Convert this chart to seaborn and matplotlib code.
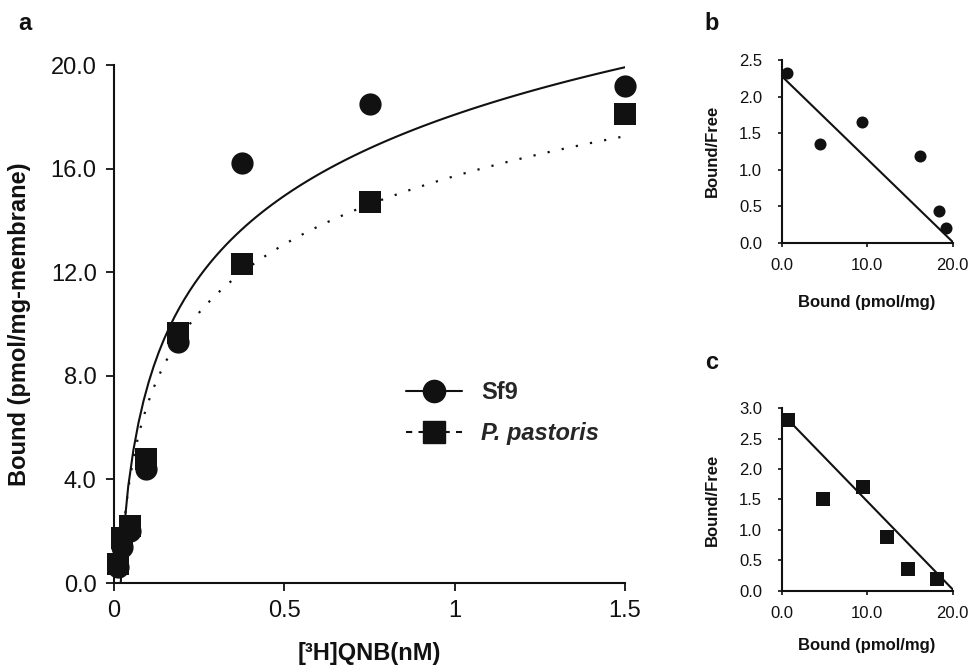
import numpy as np
import matplotlib
matplotlib.use("Agg")
import matplotlib.pyplot as plt
from matplotlib.lines import Line2D
import seaborn as sns

# saturation binding, [3H]QNB two-fold dilution series (nM)
qnb_nm = [0.0117, 0.0234, 0.0469, 0.0938, 0.1875, 0.375, 0.75, 1.5]
sf9_bound = [0.6, 1.4, 2.0, 4.4, 9.3, 16.2, 18.5, 19.2]
pp_bound = [0.75, 1.75, 2.2, 4.8, 9.65, 12.3, 14.7, 18.1]

# Scatchard, Sf9 (panel b)
sf9_sc_bound = [0.66, 4.5, 9.4, 16.2, 18.4, 19.2]
sf9_sc_bf = [2.32, 1.35, 1.65, 1.18, 0.44, 0.2]
sf9_line_x = [0.0, 20.1]
sf9_line_y = [2.28, 0.0]

# Scatchard, P. pastoris (panel c)
pp_sc_bound = [0.78, 4.87, 9.55, 12.36, 14.74, 18.13]
pp_sc_bf = [2.80, 1.50, 1.71, 0.89, 0.36, 0.19]
pp_line_x = [0.0, 20.15]
pp_line_y = [2.92, 0.0]

main_xticks = [0, 0.5, 1, 1.5]
main_xticklabels = ["0", "0.5", "1", "1.5"]
main_yticks = [0, 4, 8, 12, 16, 20]
ins_xticks = [0, 10, 20]

sns.set_style("ticks")
plt.rcParams["font.family"] = ["Liberation Sans", "DejaVu Sans"]
ink = "#111111"

fig = plt.figure(figsize=(9.71, 6.66), dpi=100)

# ---- panel a ----
ax = fig.add_axes([0.1174, 0.1246, 0.5263, 0.7778])
sns.regplot(x=np.array(qnb_nm), y=np.array(sf9_bound), logx=True, ci=None,
            scatter=False, color=ink, line_kws=dict(lw=1.5), ax=ax)
sns.regplot(x=np.array(qnb_nm), y=np.array(pp_bound), logx=True, ci=None,
            scatter=False, color=ink,
            line_kws=dict(lw=1.6, linestyle=(0, (1, 5.5))), ax=ax)
sns.scatterplot(x=qnb_nm, y=sf9_bound, marker="o", s=256, color=ink,
                linewidth=0, clip_on=False, zorder=3, ax=ax)
sns.scatterplot(x=qnb_nm, y=pp_bound, marker="s", s=256, color=ink,
                linewidth=0, clip_on=False, zorder=4, ax=ax)
ax.set_xlim(0, 1.5)
ax.set_ylim(0, 20)
ax.set_xticks(main_xticks)
ax.set_xticklabels(main_xticklabels)
ax.set_yticks(main_yticks)
ax.set_yticklabels([f"{v:.1f}" for v in main_yticks])
ax.tick_params(labelsize=17, length=6, width=1.3, direction="out", pad=6.5,
               color=ink, labelcolor=ink)
for s in ["left", "bottom"]:
    ax.spines[s].set_linewidth(1.5)
    ax.spines[s].set_color(ink)
sns.despine(ax=ax)
ax.set_xlabel("[³H]QNB(nM)", fontsize=17, fontweight="bold", color=ink, labelpad=14)
ax.set_ylabel("Bound (pmol/mg-membrane)", fontsize=17, fontweight="bold",
              color=ink, labelpad=14)

handles = [
    Line2D([], [], color=ink, lw=1.5, marker="o", markersize=16, linestyle="-"),
    Line2D([], [], color=ink, lw=1.5, marker="s", markersize=16,
           linestyle=(0, (3, 3))),
]
leg = ax.legend(handles, ["Sf9", "P. pastoris"], loc="center left",
                bbox_to_anchor=(0.571, 0.328), frameon=False, borderpad=0,
                borderaxespad=0, handlelength=2.4, handletextpad=0.8,
                labelspacing=0.75, prop=dict(size=17, weight="bold"))
leg.get_texts()[1].set_style("italic")
fig.text(0.026, 0.965, "a", fontsize=17, fontweight="bold", color=ink,
         ha="center", va="center")


def inset(rect, xs, ys, lx, ly, marker, size, ymax, letter, ly_pos, xpad):
    a = fig.add_axes(rect)
    sns.lineplot(x=lx, y=ly, color=ink, lw=1.5, ax=a)
    sns.scatterplot(x=xs, y=ys, marker=marker, s=size, color=ink,
                    linewidth=0, clip_on=False, zorder=3, ax=a)
    a.set_xlim(0, 20)
    a.set_ylim(0, ymax)
    a.set_xticks(ins_xticks)
    a.set_xticklabels([f"{v:.1f}" for v in ins_xticks])
    yt = np.arange(0, ymax + 0.01, 0.5)
    a.set_yticks(yt)
    a.set_yticklabels([f"{v:.1f}" for v in yt])
    a.tick_params(labelsize=12, length=3, width=1.2, direction="out",
                  color=ink, labelcolor=ink)
    a.tick_params(axis="y", pad=11)
    a.tick_params(axis="x", pad=8)
    for s in ["left", "bottom"]:
        a.spines[s].set_linewidth(1.5)
        a.spines[s].set_color(ink)
    sns.despine(ax=a)
    a.set_xlabel("Bound (pmol/mg)", fontsize=12, fontweight="bold", color=ink,
                 labelpad=xpad)
    a.set_ylabel("Bound/Free", fontsize=12, fontweight="bold", color=ink,
                 labelpad=14)
    fig.text(0.733, ly_pos, letter, fontsize=17, fontweight="bold", color=ink,
             ha="center", va="center")
    return a


inset([0.805, 0.6356, 0.1761, 0.2743], sf9_sc_bound, sf9_sc_bf,
      sf9_line_x, sf9_line_y, "o", 75, 2.5, "b", 0.965, 16)
inset([0.805, 0.1131, 0.1761, 0.2739], pp_sc_bound, pp_sc_bf,
      pp_line_x, pp_line_y, "s", 92, 3.0, "c", 0.455, 12)

fig.savefig("out.png", dpi=100)
